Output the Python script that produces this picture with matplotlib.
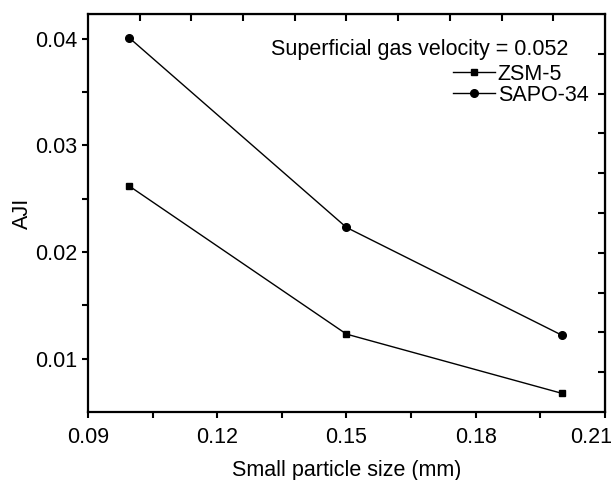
import matplotlib
matplotlib.use("Agg")
import matplotlib.pyplot as plt
from matplotlib.transforms import ScaledTranslation
import numpy as np

# ── Data ──────────────────────────────────────────────────────────────────────
particle_size = [0.0995, 0.15, 0.2]
ajI_zsm5      = [0.0262, 0.0123, 0.00675]
ajI_sapo34    = [0.0401, 0.0223, 0.0122]
x_ticks       = [0.09, 0.12, 0.15, 0.18, 0.21]
y_ticks       = [0.01, 0.02, 0.03, 0.04]

plt.rcParams.update({
    "font.family": ["Liberation Sans", "DejaVu Sans"],
    "font.size": 15.5,
})

fig = plt.figure(figsize=(6.11, 4.8), dpi=100)
ax = fig.add_axes([0.144, 0.1417, 0.846, 0.829])

ax.plot(particle_size, ajI_zsm5, color="black", lw=1.0, marker="s", ms=5,
        label="ZSM-5")
ax.plot(particle_size, ajI_sapo34, color="black", lw=1.0, marker="o", ms=5.5,
        label="SAPO-34")

ax.set_xlim(0.09, 0.21)
ax.set_ylim(0.005, 0.0423)
ax.set_xticks(x_ticks)
ax.set_xticklabels([f"{v:.2f}" for v in x_ticks])
ax.set_xticks([0.105, 0.135, 0.165, 0.195], minor=True)
ax.set_yticks(y_ticks)
ax.set_yticklabels([f"{v:.2f}" for v in y_ticks])
ax.set_yticks([0.015, 0.025, 0.035], minor=True)
ax.tick_params(which="both", direction="out", width=1.5, length=4.5, pad=3)
ax.tick_params(axis="x", pad=6)

# last x label pulled inward so it stays on the canvas
last = ax.get_xticklabels()[-1]
last.set_transform(last.get_transform() +
                   ScaledTranslation(-0.14, 0, fig.dpi_scale_trans))

for s in ax.spines.values():
    s.set_linewidth(1.6)

# unlabeled top / right tick sets (10 equal divisions, inward)
frac = np.arange(1, 10) / 10
ax_top = ax.secondary_xaxis("top", functions=(lambda v: v, lambda v: v))
ax_top.set_xticks(0.09 + frac * 0.12)
ax_top.set_xticklabels([])
ax_top.tick_params(direction="in", width=1.5, length=5)
ax_right = ax.secondary_yaxis("right", functions=(lambda v: v, lambda v: v))
ax_right.set_yticks(0.005 + frac * (0.0423 - 0.005))
ax_right.set_yticklabels([])
ax_right.tick_params(direction="in", width=1.5, length=5)

ax.set_xlabel("Small particle size (mm)", labelpad=9)
ax.set_ylabel("AJI", labelpad=2)

ax.text(0.929, 0.91, "Superficial gas velocity = 0.052", transform=ax.transAxes,
        ha="right", va="center")
ax.legend(loc="upper right", bbox_to_anchor=(0.968, 0.875), frameon=False,
          handlelength=1.95, handletextpad=0.1, labelspacing=0.0,
          borderpad=0, borderaxespad=0)

fig.savefig("out.png", dpi=100)
